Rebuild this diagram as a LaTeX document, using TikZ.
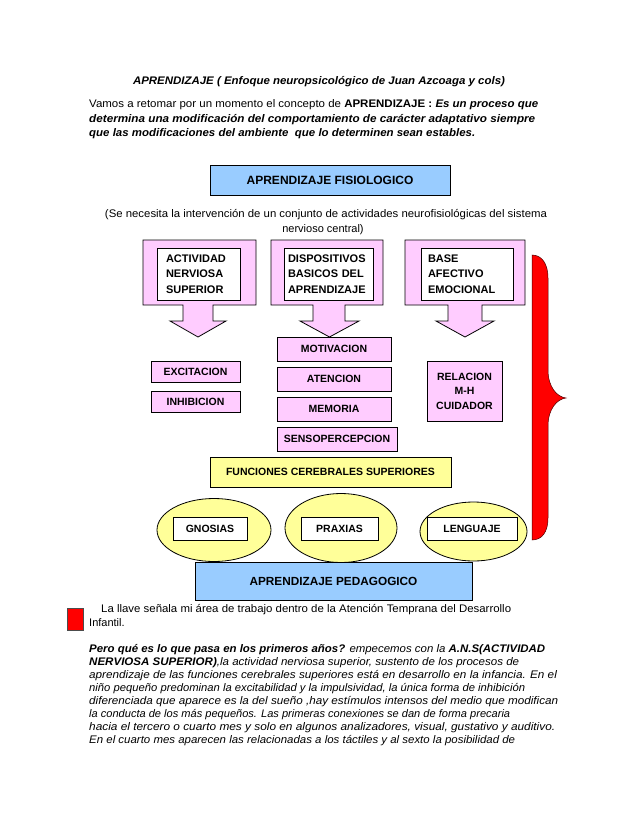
\documentclass[tikz,border=0pt]{standalone}
\usepackage{fontspec}
\setmainfont{Liberation Sans}
\usepackage{graphicx}
\usetikzlibrary{shapes.geometric}
\definecolor{pinkf}{RGB}{255,204,255}
\definecolor{bluef}{RGB}{153,204,255}
\definecolor{yellowf}{RGB}{255,255,153}
\definecolor{bracered}{RGB}{255,0,0}
\newcommand\fitw[2]{\resizebox{#1pt}{\height}{#2}}
\begin{document}
\begin{tikzpicture}[x=1pt,y=-1pt,
  txt/.style={anchor=base west, inner sep=0pt, font=\fontsize{11}{13}\selectfont},
  ctxt/.style={anchor=base, inner sep=0pt, font=\fontsize{11}{13}\selectfont},
  box/.style={draw, line width=0.8pt, inner sep=0pt, font=\fontsize{10.5}{12}\selectfont\bfseries},
  bigbox/.style={box, font=\fontsize{12}{14}\selectfont\bfseries},
  pinkbox/.style={box, fill=pinkf},
  innerbox/.style={draw, line width=0.8pt, fill=white, inner ysep=0pt, align=left, font=\fontsize{11}{15.5}\selectfont\bfseries},
  callout/.style={draw, line width=0.8pt, fill=pinkf},
  oval/.style={draw, line width=0.8pt, fill=yellowf, ellipse, inner sep=0pt},
  whitebox/.style={box, fill=white, minimum height=23pt}
]
\useasboundingbox[fill=white] (0,0) rectangle (638,826);

% title and introduction
\node[ctxt] (title) at (319,85) {\fitw{372}{\textbf{\textit{APRENDIZAJE ( Enfoque neuropsicológico de Juan Azcoaga y cols)}}}};
\node[txt] (p1) at (89,108) {\fitw{449}{Vamos a retomar por un momento el concepto de \textbf{APRENDIZAJE : \textit{Es un proceso que}}}};
\node[txt] (p2) at (89,122.5) {\fitw{446}{\textbf{\textit{determina una modificación del comportamiento de carácter adaptativo siempre}}}};
\node[txt] (p3) at (89,136.5) {\fitw{386}{\textbf{\textit{que las modificaciones del ambiente\ \ que lo determinen sean estables.}}}};

% top box
\node[bigbox, fill=bluef, minimum width=240pt, minimum height=30pt] (fis) at (330,180) {APRENDIZAJE FISIOLOGICO};
\node[ctxt] (par1) at (326,218) {\fitw{442}{(Se necesita la intervención de un conjunto de actividades neurofisiológicas del sistema}};
\node[ctxt] (par2) at (323,233) {nervioso central)};

% callout arrows
\draw[callout] (143,240) -- (256,240) -- (256,305) -- (213,305) -- (213,321) -- (226,321) -- (198,337) -- (170,321) -- (183,321) -- (183,305) -- (143,305) -- cycle;
\draw[callout] (271,240) -- (383,240) -- (383,305) -- (345,305) -- (345,321) -- (359,321) -- (329.5,337) -- (300,321) -- (313,321) -- (313,305) -- (271,305) -- cycle;
\draw[callout] (405,240) -- (525,240) -- (525,305) -- (482,305) -- (482,321) -- (494,321) -- (465,337) -- (436,321) -- (448,321) -- (448,305) -- (405,305) -- cycle;

\node[innerbox, inner xsep=9pt, text width=65pt, minimum height=52pt] (ans) at (198.5,274) {ACTIVIDAD\\NERVIOSA\\SUPERIOR};
\node[innerbox, inner xsep=4pt, text width=81pt, minimum height=52pt] (dba) at (328.5,274) {DISPOSITIVOS\\BASICOS DEL\\APRENDIZAJE};
\node[innerbox, inner xsep=7pt, text width=78pt, minimum height=52pt] (bae) at (467,274) {BASE\\AFECTIVO\\EMOCIONAL};

% second level
\node[pinkbox, minimum width=89pt, minimum height=21pt] (exc) at (195.5,371.5) {EXCITACION};
\node[pinkbox, minimum width=89pt, minimum height=21pt] (inh) at (195.5,401.5) {INHIBICION};
\node[pinkbox, minimum width=114pt, minimum height=24pt] (mot) at (334,349) {MOTIVACION};
\node[pinkbox, minimum width=114pt, minimum height=24pt] (ate) at (334,379) {ATENCION};
\node[pinkbox, minimum width=114pt, minimum height=24pt] (mem) at (334,409) {MEMORIA};
\node[pinkbox, minimum width=120pt, minimum height=24pt] (sen) at (337,439) {SENSOPERCEPCION};
\node[pinkbox, minimum width=75pt, minimum height=60pt, align=center, font=\fontsize{10.5}{14.5}\selectfont\bfseries] (rel) at (464.5,391) {RELACION\\M-H\\CUIDADOR};

% functions
\node[bigbox, fill=yellowf, minimum width=241pt, minimum height=30pt, font=\fontsize{10.5}{12}\selectfont\bfseries] (fcs) at (330.5,472) {FUNCIONES CEREBRALES SUPERIORES};
\node[oval, minimum width=114pt, minimum height=63pt] (e1) at (214,530) {};
\node[oval, minimum width=112pt, minimum height=69pt] (e2) at (341,528) {};
\node[oval, minimum width=107pt, minimum height=59pt] (e3) at (473.5,531.5) {};
\node[whitebox, minimum width=74pt] (gno) at (210,528.5) {GNOSIAS};
\node[whitebox, minimum width=77pt] (pra) at (339.5,528.5) {PRAXIAS};
\node[whitebox, minimum width=90pt] (len) at (472,528.5) {LENGUAJE};

\node[bigbox, fill=bluef, minimum width=277pt, minimum height=38pt, font=\fontsize{11.8}{14}\selectfont\bfseries] (ped) at (333.5,581) {APRENDIZAJE PEDAGOGICO};

% red brace
\draw[fill=bracered, draw=black!70!red, line width=0.5pt] (532,255) -- (532,540) .. controls (542,540) and (548,532) .. (548,518) -- (548,426) .. controls (548,409) and (557,399) .. (566,398) .. controls (557,397) and (548,387) .. (548,370) -- (548,278) .. controls (548,264) and (542,255) .. (532,255) -- cycle;

% legend
\node[draw=black!70, line width=0.5pt, fill=bracered, minimum width=16pt, minimum height=22pt, inner sep=0pt] (leg) at (75,619) {};
\node[txt] (l1) at (101,612) {\fitw{410}{La llave señala mi área de trabajo dentro de la Atención Temprana del Desarrollo}};
\node[txt] (l2) at (89,626) {Infantil.};

% lower paragraph
\node[txt] (q1) at (89,652.5) {\fitw{456}{\textbf{\textit{Pero qué es lo que pasa en los primeros años?}} \textit{empecemos con la} \textbf{\textit{A.N.S(ACTIVIDAD}}}};
\node[txt] (q2) at (89,665.5) {\fitw{430}{\textbf{\textit{NERVIOSA SUPERIOR)}}\textit{,la actividad nerviosa superior, sustento de los procesos de}}};
\node[txt] (q3) at (89,678.5) {\fitw{468}{\textit{aprendizaje de las funciones cerebrales superiores está en desarrollo en la infancia. En el}}};
\node[txt] (q4) at (89,691.5) {\fitw{436}{\textit{niño pequeño predominan la excitabilidad y la impulsividad, la única forma de inhibición}}};
\node[txt] (q5) at (89,704.5) {\fitw{469}{\textit{diferenciada que aparece es la del sueño ,hay estímulos intensos del medio que modifican}}};
\node[txt] (q6) at (89,717.5) {\fitw{421}{\textit{la conducta de los más pequeños. Las primeras conexiones se dan de forma precaria}}};
\node[txt] (q7) at (89,730.5) {\fitw{466}{\textit{hacia el tercero o cuarto mes y solo en algunos analizadores, visual, gustativo y auditivo.}}};
\node[txt] (q8) at (89,743.5) {\fitw{426}{\textit{En el cuarto mes aparecen las relacionadas a los táctiles y al sexto la posibilidad de}}};
\end{tikzpicture}
\end{document}
